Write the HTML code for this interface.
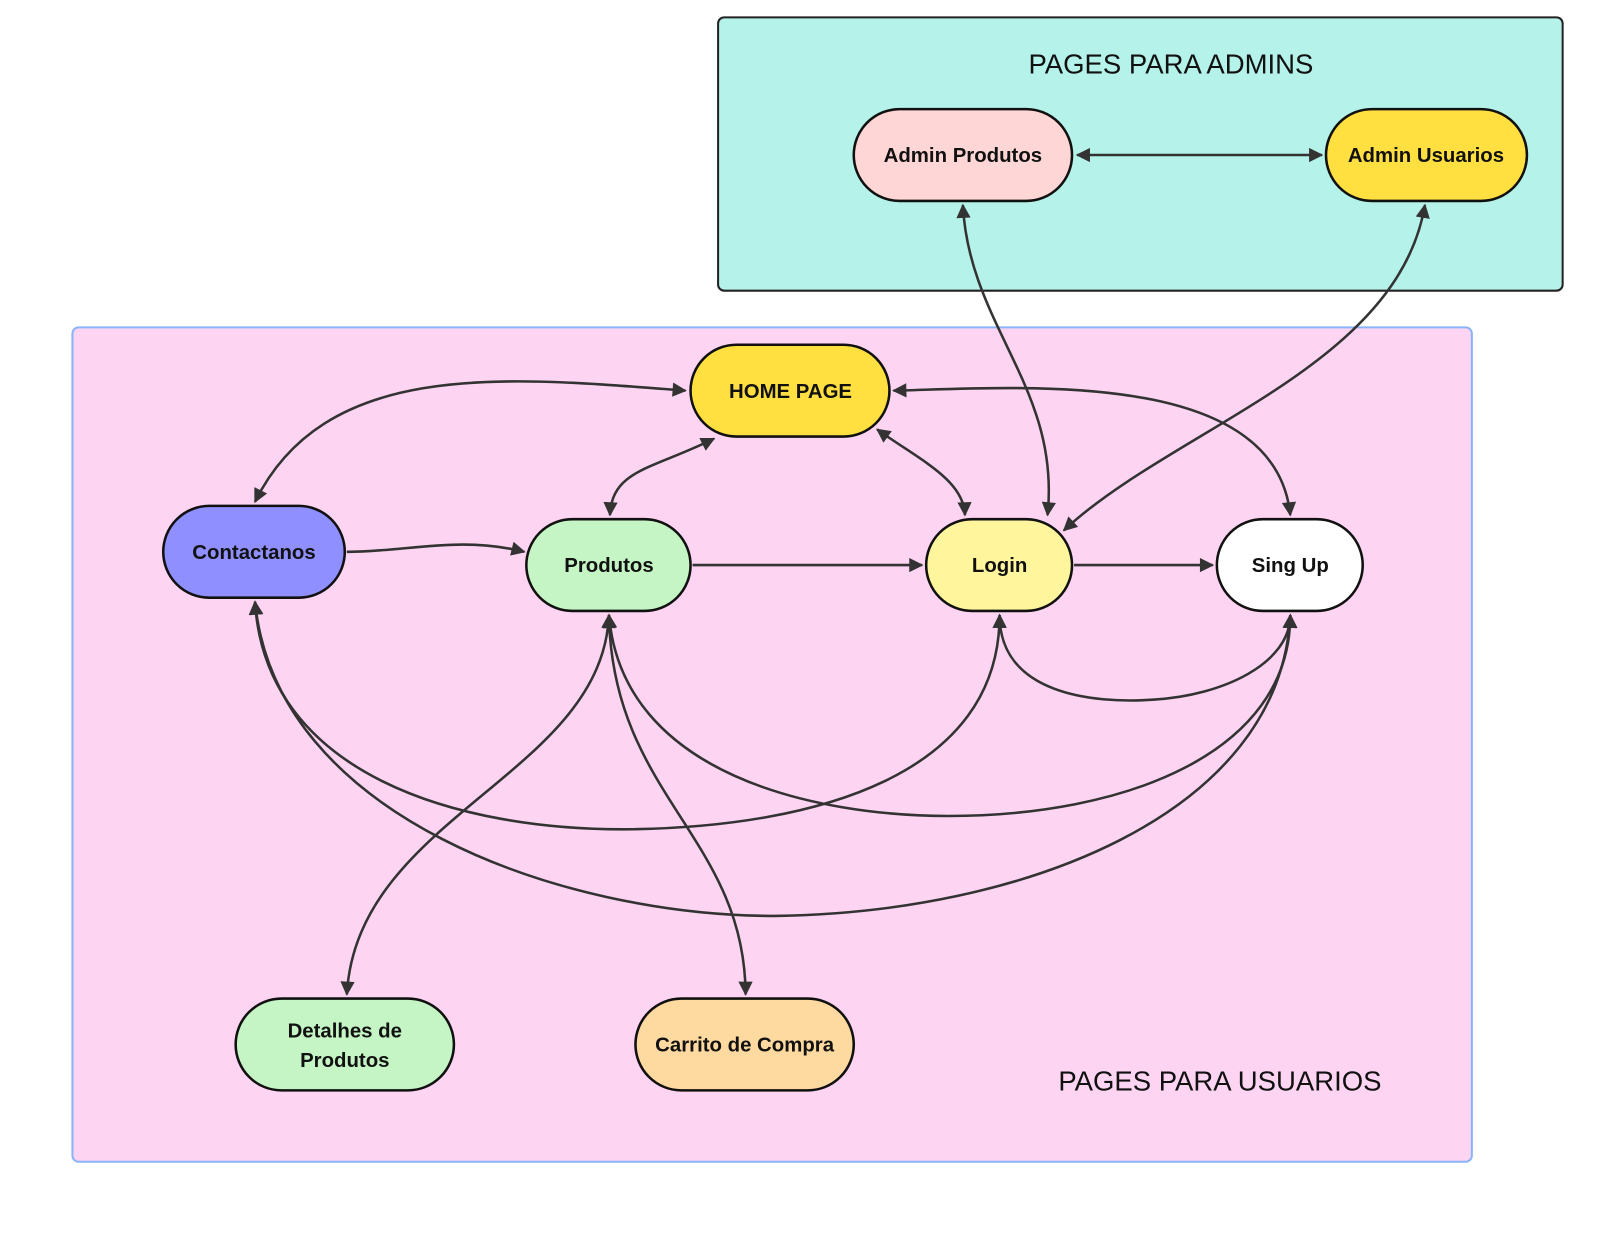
<!DOCTYPE html>
<html><head><meta charset="utf-8"><style>
body{margin:0;background:#fff;width:1600px;height:1236px;overflow:hidden}
svg text{font-family:"Liberation Sans",sans-serif}
</style></head><body>
<svg width="1600" height="1236" viewBox="0 0 1568.6 1211.8" xmlns="http://www.w3.org/2000/svg">
<defs>
<marker id="b" viewBox="0 0 10 10" refX="9" refY="5" markerWidth="18" markerHeight="14" orient="auto-start-reverse" markerUnits="userSpaceOnUse"><path d="M0,0 L10,5 L0,10 z" fill="#333"/></marker>
</defs>
<rect x="704" y="17" width="828" height="268" rx="6" fill="#b5f3ea" stroke="#222" stroke-width="2"/>
<rect x="71" y="321" width="1372" height="818" rx="6" fill="#fdd5f3" stroke="#8ab4f8" stroke-width="2"/>
<text x="1148" y="72" font-size="27" text-anchor="middle" fill="#111">PAGES PARA ADMINS</text>
<text x="1196" y="1069" font-size="27" text-anchor="middle" fill="#111">PAGES PARA USUARIOS</text>
<g fill="none" stroke="#333" stroke-width="2.5" marker-end="url(#b)">
<path d="M1056,152 L1296,152" marker-start="url(#b)"/>
<path d="M944,201 C950,320 1040,380 1027,505" marker-start="url(#b)"/>
<path d="M1397,201 C1370,360 1150,420 1043,520" marker-start="url(#b)"/>
<path d="M672,383 C500,370 320,350 250,492" marker-start="url(#b)"/>
<path d="M876,383 C1000,380 1250,360 1265,505" marker-start="url(#b)"/>
<path d="M700,430 C640,460 600,460 598,505" marker-start="url(#b)"/>
<path d="M860,421 C900,450 945,470 946,505" marker-start="url(#b)"/>
<path d="M340,541 C400,541 450,525 514,541"/>
<path d="M679,554 L904,554"/>
<path d="M1053,554 L1189,554"/>
<path d="M980,603 C980,680 1070,690 1130,686 C1200,682 1265,650 1265,603" marker-start="url(#b)"/>
<path d="M250,590 C260,760 450,815 620,813 C800,810 980,760 980,603" marker-start="url(#b)"/>
<path d="M597,603 C610,760 800,800 930,800 C1100,800 1265,740 1265,603" marker-start="url(#b)"/>
<path d="M250,590 C270,800 550,898 760,898 C1000,895 1255,800 1265,603" marker-start="url(#b)"/>
<path d="M597,603 C590,760 350,800 340,975" marker-start="url(#b)"/>
<path d="M597,603 C600,780 730,820 731,975" marker-start="url(#b)"/>
</g>
<g stroke="#111" stroke-width="2.5">
<rect x="837" y="107" width="214" height="90" rx="45" fill="#ffd6d6"/>
<rect x="1300" y="107" width="197" height="90" rx="45" fill="#ffe040"/>
<rect x="677" y="338" width="195" height="90" rx="45" fill="#ffe040"/>
<rect x="160" y="496" width="178" height="90" rx="45" fill="#8f8fff"/>
<rect x="516" y="509" width="161" height="90" rx="45" fill="#c5f5c5"/>
<rect x="908" y="509" width="143" height="90" rx="45" fill="#fff59c"/>
<rect x="1193" y="509" width="143" height="90" rx="45" fill="#fff"/>
<rect x="231" y="979" width="214" height="90" rx="45" fill="#c5f5c5"/>
<rect x="623" y="979" width="214" height="90" rx="45" fill="#fed9a0"/>
</g>
<g font-size="20" font-weight="bold" text-anchor="middle" fill="#111">
<text x="944" y="159">Admin Produtos</text>
<text x="1398" y="159">Admin Usuarios</text>
<text x="775" y="390">HOME PAGE</text>
<text x="249" y="548">Contactanos</text>
<text x="597" y="561">Produtos</text>
<text x="980" y="561">Login</text>
<text x="1265" y="561">Sing Up</text>
<text x="338" y="1017">Detalhes de</text>
<text x="338" y="1046">Produtos</text>
<text x="730" y="1031">Carrito de Compra</text>
</g>
</svg>
</body></html>
